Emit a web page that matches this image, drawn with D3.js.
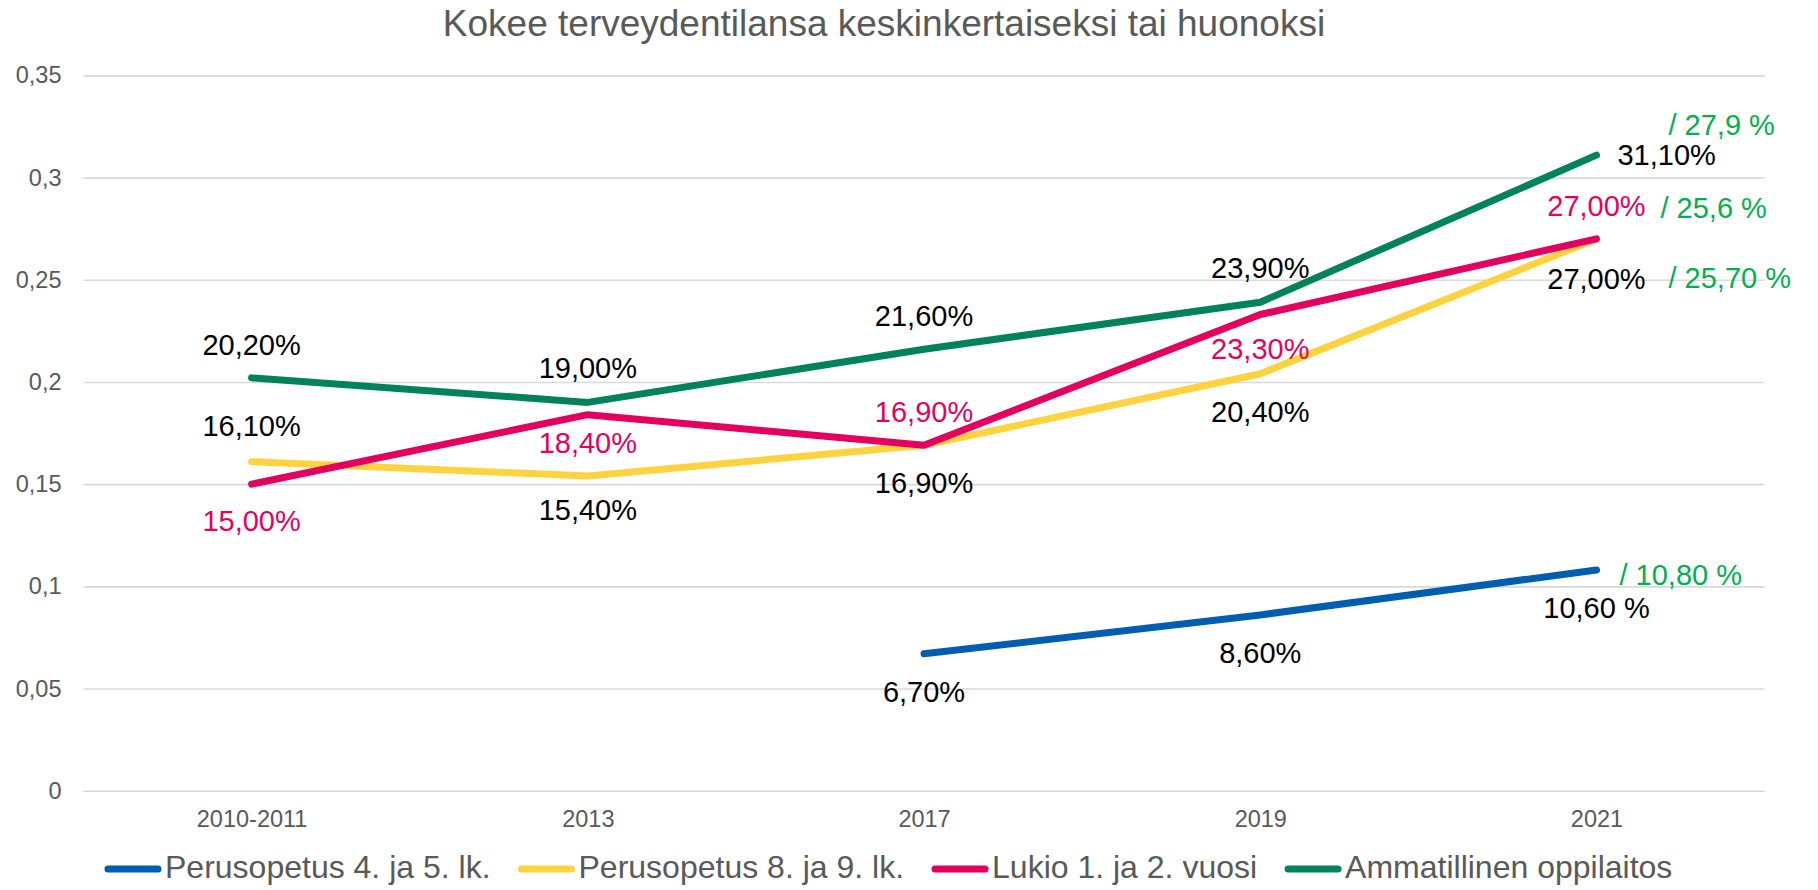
<!DOCTYPE html>
<html>
<head>
<meta charset="utf-8">
<script src="https://cdnjs.cloudflare.com/ajax/libs/d3/7.8.5/d3.min.js"></script>
<style>
  html, body { margin: 0; padding: 0; background: #fff; }
  svg { display: block; font-family: Arial, "Liberation Sans", sans-serif; }
</style>
</head>
<body>
<svg id="chart" width="1818" height="890"></svg>
<script>
// ---- Data ----
const categories = ["2010-2011", "2013", "2017", "2019", "2021"];
const seriesNames = ["Perusopetus 4. ja 5. lk.", "Perusopetus 8. ja 9. lk.", "Lukio 1. ja 2. vuosi", "Ammatillinen oppilaitos"];
const perus45 = [null, null, 0.067, 0.086, 0.108];
const perus89 = [0.161, 0.154, 0.169, 0.204, 0.270];
const lukio   = [0.150, 0.184, 0.169, 0.233, 0.270];
const ammat   = [0.202, 0.190, 0.216, 0.239, 0.311];
const perus45Labels = [null, null, "6,70%", "8,60%", "10,60 %"];
const perus89Labels = ["16,10%", "15,40%", "16,90%", "20,40%", "27,00%"];
const lukioLabels   = ["15,00%", "18,40%", "16,90%", "23,30%", "27,00%"];
const ammatLabels   = ["20,20%", "19,00%", "21,60%", "23,90%", "31,10%"];
const comparisonLabels = ["/ 10,80 %", "/ 25,70 %", "/ 25,6 %", "/ 27,9 %"]; // at 2021, per series
const yTicks = [0, 0.05, 0.1, 0.15, 0.2, 0.25, 0.3, 0.35];
const yTickLabels = ["0", "0,05", "0,1", "0,15", "0,2", "0,25", "0,3", "0,35"];
const title = "Kokee terveydentilansa keskinkertaiseksi tai huonoksi";

// ---- Styles / layout ----
const colors = ["#005EB0", "#FFD33F", "#E4005F", "#00825A"];
const labelColors = ["#000000", "#000000", "#E4005F", "#000000"];
const noteColor = "#00B050";
// label offsets from the point (dy in px); "r" = to the right
const labelDy = [
  [36, 36, 38, 38, 38],
  [-36, 34, 38, 38, 40],
  [37, 28, -33, 34, -33],
  [-33, -34, -33, -34, "r"]
];
// comparison note offsets relative to the 2021 point
const noteOffsets = [[23, 5], [72, 39], [64, -31], [72, -30]];

const W = 1818, H = 890;
const margin = { left: 83.5, right: W - 1764.6, top: 75.4, bottom: H - 790.7 };

const svg = d3.select("#chart");

const x = d3.scalePoint().domain(categories).range([margin.left, W - margin.right]).padding(0.5);
const y = d3.scaleLinear().domain([0, 0.35]).range([H - margin.bottom, margin.top]);

// title
svg.append("text")
  .attr("x", 884).attr("y", 23)
  .attr("text-anchor", "middle").attr("dominant-baseline", "central")
  .attr("fill", "#595959").attr("font-size", 37)
  .text(title);

// gridlines + y axis labels via d3 axis
const yAxis = d3.axisLeft(y).tickValues(yTicks)
  .tickSize(-(W - margin.left - margin.right))
  .tickPadding(22)
  .tickFormat((d, i) => yTickLabels[i]);
const gy = svg.append("g").attr("transform", `translate(${margin.left},0)`).call(yAxis);
gy.select(".domain").remove();
gy.selectAll(".tick line").attr("stroke", "#D9D9D9").attr("stroke-width", 1.6);
gy.selectAll(".tick text").attr("fill", "#595959").attr("font-size", 23.5)
  .attr("font-family", "Arial, 'Liberation Sans', sans-serif");

// x axis labels
const xAxis = d3.axisBottom(x).tickSize(0).tickPadding(20);
const gx = svg.append("g").attr("transform", `translate(0,${H - margin.bottom})`).call(xAxis);
gx.select(".domain").remove();
gx.selectAll(".tick text").attr("fill", "#595959").attr("font-size", 23.5)
  .attr("font-family", "Arial, 'Liberation Sans', sans-serif");

// lines
const allSeries = [perus45, perus89, lukio, ammat];
const allLabels = [perus45Labels, perus89Labels, lukioLabels, ammatLabels];
const line = d3.line()
  .defined(d => d.v != null)
  .x(d => x(d.c)).y(d => y(d.v));

allSeries.forEach((vals, si) => {
  const pts = vals.map((v, i) => ({ c: categories[i], v }));
  svg.append("path")
    .datum(pts)
    .attr("d", line)
    .attr("fill", "none")
    .attr("stroke", colors[si])
    .attr("stroke-width", 7)
    .attr("stroke-linecap", "round")
    .attr("stroke-linejoin", "round");
});

// data labels
allSeries.forEach((vals, si) => {
  vals.forEach((v, i) => {
    if (v == null) return;
    const dy = labelDy[si][i];
    const px = x(categories[i]), py = y(v);
    const t = svg.append("text")
      .attr("font-size", 29)
      .attr("fill", labelColors[si])
      .attr("dominant-baseline", "central")
      .text(allLabels[si][i]);
    if (dy === "r") {
      t.attr("x", px + 21).attr("y", py).attr("text-anchor", "start");
    } else {
      t.attr("x", px).attr("y", py + dy).attr("text-anchor", "middle");
    }
  });
});

// comparison notes at 2021
allSeries.forEach((vals, si) => {
  const last = categories.length - 1;
  const px = x(categories[last]), py = y(vals[last]);
  svg.append("text")
    .attr("x", px + noteOffsets[si][0]).attr("y", py + noteOffsets[si][1])
    .attr("font-size", 29).attr("fill", noteColor)
    .attr("dominant-baseline", "central")
    .text(comparisonLabels[si]);
});

// legend
const legend = svg.append("g").attr("transform", "translate(105,867)");
let lx = 0;
seriesNames.forEach((name, si) => {
  legend.append("line")
    .attr("x1", lx + 3).attr("x2", lx + 53).attr("y1", 2).attr("y2", 2)
    .attr("stroke", colors[si]).attr("stroke-width", 7).attr("stroke-linecap", "round");
  const t = legend.append("text")
    .attr("x", lx + 60).attr("y", 0)
    .attr("dominant-baseline", "central")
    .attr("font-size", 32).attr("fill", "#595959")
    .text(name);
  lx += 60 + t.node().getComputedTextLength() + 28;
});
</script>
</body>
</html>
